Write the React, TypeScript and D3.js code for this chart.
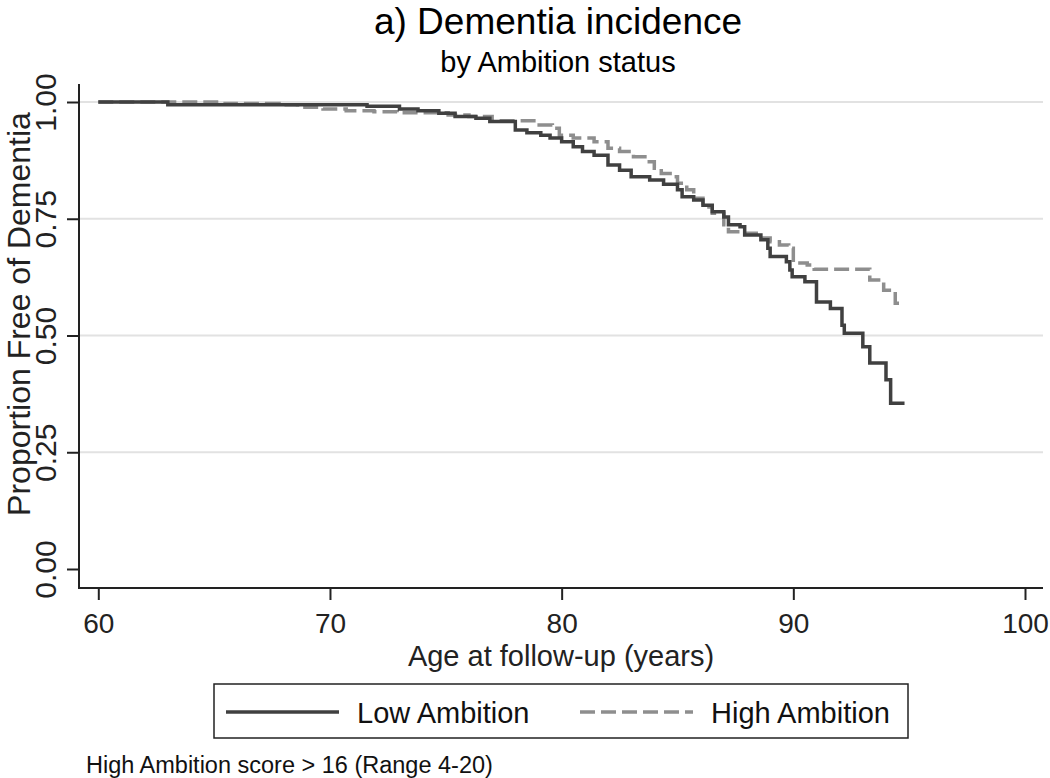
import { useEffect, useRef } from "react"
import * as d3 from "d3"

// Kaplan-Meier step points: age at which the step happens, survival after it
const lowAges = [60, 63.0, 71.6, 73.0, 73.8, 74.7, 75.4, 76.3, 76.9, 78.0, 78.5, 79.1, 79.5, 80.0, 80.5, 80.9, 81.4, 82.0, 82.5, 83.0, 83.8, 84.4, 85.0, 85.2, 85.7, 86.1, 86.5, 87.0, 87.2, 87.7, 87.9, 88.6, 88.9, 89.0, 89.7, 89.85, 89.95, 90.5, 91.0, 91.6, 92.1, 92.2, 93.0, 93.3, 94.0, 94.2, 94.8]
const lowSurv = [1.0, 0.994, 0.991, 0.985, 0.981, 0.976, 0.969, 0.965, 0.958, 0.94, 0.934, 0.929, 0.923, 0.915, 0.904, 0.894, 0.886, 0.865, 0.854, 0.84, 0.833, 0.824, 0.812, 0.797, 0.79, 0.779, 0.765, 0.754, 0.737, 0.733, 0.715, 0.705, 0.687, 0.669, 0.658, 0.64, 0.626, 0.615, 0.572, 0.558, 0.522, 0.505, 0.476, 0.441, 0.405, 0.355, 0.355]

const highAges = [60, 65.4, 67.8, 68.6, 69.7, 70.7, 71.9, 72.9, 75.1, 76.0, 77.0, 78.9, 79.6, 79.9, 80.5, 81.4, 82.0, 82.5, 83.1, 83.7, 84.0, 84.3, 84.8, 85.0, 85.4, 85.7, 86.1, 86.5, 87.0, 87.2, 87.8, 88.4, 89.0, 89.4, 89.8, 90.0, 90.6, 90.9, 93.3, 93.9, 94.4, 94.8]
const highSurv = [1.0, 0.997, 0.994, 0.989, 0.985, 0.981, 0.979, 0.977, 0.972, 0.969, 0.96, 0.951, 0.944, 0.929, 0.923, 0.915, 0.901, 0.894, 0.883, 0.872, 0.858, 0.847, 0.84, 0.826, 0.812, 0.794, 0.775, 0.762, 0.737, 0.722, 0.719, 0.709, 0.701, 0.694, 0.687, 0.655, 0.651, 0.642, 0.619, 0.597, 0.569, 0.569]

const xTicks = [60, 70, 80, 90, 100]
const yTicks = [0, 0.25, 0.5, 0.75, 1]
const seriesNames = ["Low Ambition", "High Ambition"]

const FONT = "'Liberation Sans', Arial, Helvetica, sans-serif"

export default function App() {
  const svgRef = useRef<SVGSVGElement>(null)

  useEffect(() => {
    if (!svgRef.current) return
    const svg = d3.select(svgRef.current)
    svg.selectAll("*").remove()

    const plotLeft = 79
    const plotRight = 1043
    const plotTop = 84
    const plotBottom = 588

    const x = d3.scaleLinear().domain([60, 100]).range([98.3, 1025])
    const y = d3.scaleLinear().domain([0, 1]).range([569, 102])

    svg.append("rect").attr("width", 1050).attr("height", 778).attr("fill", "#fff")

    // Titles
    svg
      .append("text")
      .attr("x", 558)
      .attr("y", 34)
      .attr("text-anchor", "middle")
      .attr("font-size", 37)
      .attr("fill", "#000")
      .text("a) Dementia incidence")
    svg
      .append("text")
      .attr("x", 558)
      .attr("y", 72)
      .attr("text-anchor", "middle")
      .attr("font-size", 29)
      .attr("fill", "#000")
      .text("by Ambition status")

    // Grid lines
    svg
      .append("g")
      .selectAll("line")
      .data(yTicks.filter((d) => d > 0))
      .enter()
      .append("line")
      .attr("x1", plotLeft)
      .attr("x2", plotRight)
      .attr("y1", (d) => y(d))
      .attr("y2", (d) => y(d))
      .attr("stroke", "#e2e2e2")
      .attr("stroke-width", 2)

    // Axes
    const yAxis = d3
      .axisLeft(y)
      .tickValues(yTicks)
      .tickSize(12)
      .tickFormat((d) => d3.format(".2f")(d as number))
    const yg = svg.append("g").attr("transform", `translate(${plotLeft},0)`).call(yAxis)
    yg.select(".domain").remove()
    yg.selectAll(".tick line").attr("stroke", "#222").attr("stroke-width", 2)
    yg.selectAll(".tick text")
      .attr("font-family", FONT)
      .attr("font-size", 30)
      .attr("fill", "#222")
      .attr("x", null)
      .attr("dy", null)
      .attr("text-anchor", "middle")
      .attr("transform", "translate(-23,0) rotate(-90)")

    const xAxis = d3.axisBottom(x).tickValues(xTicks).tickSize(12)
    const xg = svg.append("g").attr("transform", `translate(0,${plotBottom})`).call(xAxis)
    xg.select(".domain").remove()
    xg.selectAll(".tick line").attr("stroke", "#222").attr("stroke-width", 2)
    xg.selectAll(".tick text")
      .attr("font-family", FONT)
      .attr("font-size", 28)
      .attr("fill", "#222")
      .attr("y", 45)
      .attr("dy", null)

    svg
      .append("line")
      .attr("x1", plotLeft)
      .attr("x2", plotLeft)
      .attr("y1", plotTop)
      .attr("y2", plotBottom + 1)
      .attr("stroke", "#222")
      .attr("stroke-width", 2)
    svg
      .append("line")
      .attr("x1", plotLeft - 1)
      .attr("x2", plotRight)
      .attr("y1", plotBottom)
      .attr("y2", plotBottom)
      .attr("stroke", "#222")
      .attr("stroke-width", 2)

    // Axis titles
    svg
      .append("text")
      .attr("transform", `translate(30,314) rotate(-90)`)
      .attr("text-anchor", "middle")
      .attr("font-size", 32)
      .attr("fill", "#222")
      .text("Proportion Free of Dementia")
    svg
      .append("text")
      .attr("x", 561)
      .attr("y", 666)
      .attr("text-anchor", "middle")
      .attr("font-size", 29)
      .attr("fill", "#222")
      .text("Age at follow-up (years)")

    // Survival curves
    const line = d3
      .line<[number, number]>()
      .x((d) => x(d[0]))
      .y((d) => y(d[1]))
      .curve(d3.curveStepAfter)

    const lowData = lowAges.map((a, i) => [a, lowSurv[i]] as [number, number])
    const highData = highAges.map((a, i) => [a, highSurv[i]] as [number, number])

    const colors = ["#404040", "#8e8e8e"]
    const dashes = [null, "15,6"]

    svg
      .append("path")
      .datum(highData)
      .attr("d", line)
      .attr("fill", "none")
      .attr("stroke", colors[1])
      .attr("stroke-width", 3.5)
      .attr("stroke-dasharray", dashes[1])
    svg
      .append("path")
      .datum(lowData)
      .attr("d", line)
      .attr("fill", "none")
      .attr("stroke", colors[0])
      .attr("stroke-width", 3.5)

    // Legend
    const legend = svg.append("g")
    legend
      .append("rect")
      .attr("x", 214)
      .attr("y", 684)
      .attr("width", 694)
      .attr("height", 54)
      .attr("fill", "#fff")
      .attr("stroke", "#222")
      .attr("stroke-width", 1.5)

    const itemX = [226, 580]
    seriesNames.forEach((name, i) => {
      legend
        .append("line")
        .attr("x1", itemX[i])
        .attr("x2", itemX[i] + 113)
        .attr("y1", 712)
        .attr("y2", 712)
        .attr("stroke", colors[i])
        .attr("stroke-width", 3.5)
        .attr("stroke-dasharray", dashes[i])
      legend
        .append("text")
        .attr("x", itemX[i] + 131)
        .attr("y", 723)
        .attr("font-size", 29)
        .attr("fill", "#111")
        .text(name)
    })

    // Note
    svg
      .append("text")
      .attr("x", 86)
      .attr("y", 773)
      .attr("font-size", 23.5)
      .attr("fill", "#111")
      .text("High Ambition score > 16 (Range 4-20)")
  }, [])

  return (
    <svg
      ref={svgRef}
      width={1050}
      height={778}
      style={{ position: "absolute", left: 0, top: 0, fontFamily: FONT }}
    />
  )
}
